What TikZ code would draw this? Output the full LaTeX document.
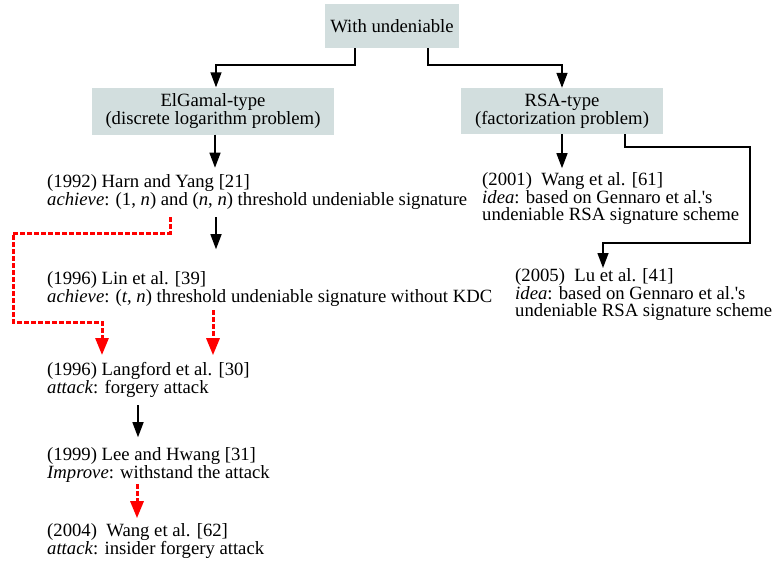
\documentclass[tikz,border=0pt]{standalone}
\usepackage{fontspec}
\setmainfont{Liberation Serif}
\usepackage{xcolor}
\usetikzlibrary{arrows, arrows.meta}
\usetikzlibrary{calc}

\definecolor{boxfill}{HTML}{D2DEDE}
\tikzset{
  catbox/.style={fill=boxfill, inner sep=0pt, align=center,
    font=\fontsize{18.7}{18}\selectfont},
  entry/.style={anchor=base west, inner sep=0pt, align=left,
    font=\fontsize{18.7}{17.5}\selectfont},
  entryrsa/.style={entry, font=\fontsize{18.7}{16.3}\selectfont},
  arr/.style={line width=1.4pt, -{Triangle[length=15pt, width=11pt]}},
  attackarr/.style={red, line width=3pt, dash pattern=on 4.5pt off 2.5pt,
    -{Triangle[length=17pt, width=13pt]}}
}

\begin{document}
\begin{tikzpicture}[x=1pt, y=-1pt]
    \useasboundingbox (0,0) rectangle (774,560);

    \node[catbox, minimum width=134pt, minimum height=44pt] (top) at (392,26) {With undeniable};
    \node[catbox, minimum width=242pt, minimum height=47pt] (elgamal) at (213,111) {ElGamal-type\\(discrete logarithm problem)};
    \node[catbox, minimum width=202pt, minimum height=46pt] (rsa) at (562,111) {RSA-type\\(factorization problem)};

    % entries, placed at the baseline of their last line
    \node[entry] (harn) at (47,205) {(1992) Harn and Yang [21]\\\textit{achieve}: (1, \textit{n}) and (\textit{n}, \textit{n}) threshold undeniable signature};
    \node[entry] (lin) at (47,302) {(1996) Lin et al. [39]\\\textit{achieve}: (\textit{t}, \textit{n}) threshold undeniable signature without KDC};
    \node[entry] (langford) at (47,393) {(1996) Langford et al. [30]\\\textit{attack}: forgery attack};
    \node[entry] (lee) at (47,478) {(1999) Lee and Hwang [31]\\\textit{Improve}: withstand the attack};
    \node[entry] (wang62) at (47,554) {(2004)\ \ Wang et al. [62]\\\textit{attack}: insider forgery attack};

    \node[entryrsa] (wang61) at (482,220) {(2001)\ \ Wang et al. [61]\\\textit{idea}: based on Gennaro et al.\textquotesingle s\\undeniable RSA signature scheme};
    \node[entryrsa] (lu) at (515,316) {(2005)\ \ Lu et al. [41]\\\textit{idea}: based on Gennaro et al.\textquotesingle s\\undeniable RSA signature scheme};

    % tree
    \draw[arr] ([xshift=-37pt]top.south) |- (216,65) -- (elgamal.north -| 216,0);
    \draw[arr] ([xshift=36pt]top.south) |- (562,65) -- (rsa.north);
    \draw[arr] (elgamal.south -| 215,0) -- ++(0,33);
    \draw[arr] (rsa.south) -- ++(0,34);
    \draw[arr] ([xshift=63pt]rsa.south) |- (750,147) |- (603,243) -- ++(0,25);

    % left branch
    \draw[arr] (harn.south -| 216,0) ++(0,8) -- ++(0,32);
    \draw[arr] (langford.south -| 138,0) ++(0,8) -- ++(0,32);
    \draw[attackarr] (harn.south -| 170,0) ++(0,8) |- (13,233) |- (102,322) -- ++(0,33);
    \draw[attackarr] (lin.south -| 213,0) ++(0,4) -- ++(0,45);
    \draw[attackarr] (lee.south -| 137,0) ++(0,2) -- ++(0,34);
\end{tikzpicture}
\end{document}
